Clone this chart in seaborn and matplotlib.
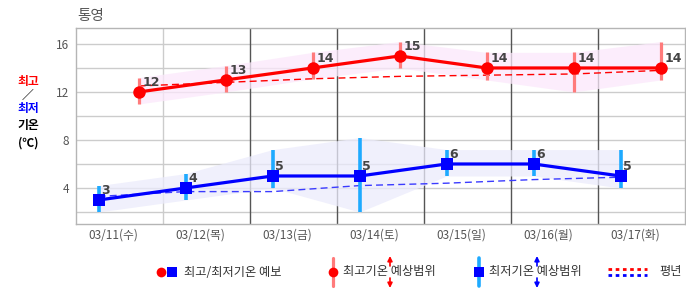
#!/usr/bin/env python
"""
Weekly max/min temperature forecast chart for 통영 with forecast ranges
and climatological normals.
"""
# Third-party
import matplotlib

matplotlib.use("Agg")
import matplotlib.pyplot as plt  # noqa: E402
import numpy as np  # noqa: E402
import pandas as pd  # noqa: E402
import seaborn as sns  # noqa: E402

# Data
dates = [
    "03/11(수)",
    "03/12(목)",
    "03/13(금)",
    "03/14(토)",
    "03/15(일)",
    "03/16(월)",
    "03/17(화)",
]
tmax = [12, 13, 14, 15, 14, 14, 14]
tmin = [3, 4, 5, 5, 6, 6, 5]
tmax_lo = [11.0, 12.0, 13.1, 14.0, 13.0, 12.0, 13.0]
tmax_hi = [13.2, 14.2, 15.3, 16.2, 15.3, 15.3, 16.2]
tmin_lo = [2.0, 3.0, 4.0, 2.0, 5.0, 5.0, 4.0]
tmin_hi = [4.2, 5.2, 7.2, 8.2, 7.2, 7.2, 7.2]
norm_max = [12.5, 12.8, 13.1, 13.3, 13.4, 13.5, 13.8]
norm_min = [3.3, 3.7, 3.7, 4.2, 4.4, 4.7, 4.9]

# Setup
sns.set_style("white")
plt.rcParams["font.family"] = ["Noto Sans CJK KR", "DejaVu Sans"]

W, H = 686, 295
RED = "#ff0000"
BLUE = "#0000ff"
PINK_BAR = "#ff7b7b"
SKY_BAR = "#1eaaff"
TXT = "#444444"

day = np.arange(len(dates))
x_max = day + 0.72  # afternoon high
x_min = day + 0.26  # morning low

df = pd.DataFrame(
    {
        "x_max": x_max,
        "x_min": x_min,
        "tmax": tmax,
        "tmin": tmin,
        "norm_max": norm_max,
        "norm_min": norm_min,
    }
)

fig = plt.figure(figsize=(W / 100, H / 100), dpi=100)
ax = fig.add_axes([76 / W, (H - 224) / H, (685 - 76) / W, (224 - 28) / H])

# Grid / frame
for v in range(2, 17, 2):
    ax.axhline(v, color="#cccccc", lw=1, zorder=0)
for i in range(1, len(dates)):
    ax.axvline(i, color="#cccccc" if i == 1 else "#555555", lw=1, zorder=0)
for s in ax.spines.values():
    s.set_color("#b5b5b5")
    s.set_linewidth(1)

# Forecast range bands
ax.fill_between(x_max, tmax_lo, tmax_hi, color="#fbe8fb", alpha=0.75, lw=0,
                zorder=1)
ax.fill_between(x_min, tmin_lo, tmin_hi, color="#ebebfc", alpha=0.75, lw=0,
                zorder=1)

# Normals
sns.lineplot(data=df, x="x_max", y="norm_max", color=RED, lw=1,
             linestyle=(0, (5, 3)), ax=ax, zorder=2)
sns.lineplot(data=df, x="x_min", y="norm_min", color="#3b3bff", lw=1,
             linestyle=(0, (5, 3)), ax=ax, zorder=2)

# Range bars
ax.vlines(x_max, tmax_lo, tmax_hi, color=PINK_BAR, lw=2.3, zorder=3)
ax.vlines(x_min, tmin_lo, tmin_hi, color=SKY_BAR, lw=2.6, zorder=3)

# Forecast lines
sns.lineplot(data=df, x="x_max", y="tmax", color=RED, lw=2.3, marker="o",
             markersize=9, markeredgewidth=0, ax=ax, zorder=4)
sns.lineplot(data=df, x="x_min", y="tmin", color=BLUE, lw=2.3, marker="s",
             markersize=8.5, markeredgewidth=0, ax=ax, zorder=4)

for xv, yv in zip(x_max, tmax):
    ax.annotate(f"{yv}", (xv, yv), xytext=(3, 7), textcoords="offset points",
                ha="left", va="center", fontsize=9, fontweight="bold",
                color=TXT, family="DejaVu Sans", zorder=5)
for xv, yv in zip(x_min, tmin):
    ax.annotate(f"{yv}", (xv, yv), xytext=(2, 7), textcoords="offset points",
                ha="left", va="center", fontsize=9, fontweight="bold",
                color=TXT, family="DejaVu Sans", zorder=5)

# Axes
ax.set_xlim(0, len(dates))
ax.set_ylim(1, 17.33)
ax.set_yticks([4, 8, 12, 16])
ax.set_yticklabels(["4", "8", "12", "16"], color="#555555", fontsize=8.5)
ax.set_xticks(day + 0.43)
ax.set_xticklabels(dates, color="#555555", fontsize=8.5)
ax.tick_params(axis="both", length=0)
ax.tick_params(axis="y", pad=5)
ax.tick_params(axis="x", pad=3)
ax.set_xlabel("")
ax.set_ylabel("")

# Title and left label
fig.text(77 / W, 1 - 16 / H, "통영", fontsize=10.5, color="#555555",
         ha="left", va="center")
left_labels = [
    ("최고", 81, RED),
    ("／", 95, "black"),
    ("최저", 109, BLUE),
    ("기온", 126, "black"),
    ("(℃)", 143, "black"),
]
for txt, yp, col in left_labels:
    fig.text(28 / W, 1 - yp / H, txt, fontsize=8.5, fontweight="bold",
             color=col, ha="center", va="center")

# Legend drawn on an overlay in pixel space
lg = fig.add_axes([0, 0, 1, 1], facecolor="none")
lg.set_xlim(0, W)
lg.set_ylim(H, 0)
lg.axis("off")
ly = 272
lg.plot([161], [ly], "o", color=RED, ms=7, mew=0)
lg.plot([172], [ly], "s", color=BLUE, ms=6.5, mew=0)
lg.text(184, ly, "최고/최저기온 예보", fontsize=8.8, color="#333333",
        va="center", ha="left")

lg.plot([333, 333], [258, 286], color=PINK_BAR, lw=2.3)
lg.plot([333], [ly], "o", color=RED, ms=7, mew=0)
lg.text(343, ly, "최고기온 예상범위", fontsize=8.8, color="#333333",
        va="center", ha="left")

lg.plot([479, 479], [258, 286], color=SKY_BAR, lw=2.6)
lg.plot([479], [ly], "s", color=BLUE, ms=6.5, mew=0)
lg.text(489, ly, "최저기온 예상범위", fontsize=8.8, color="#333333",
        va="center", ha="left")

for ax_x, col in [(390, RED), (537, BLUE)]:
    for tip, tail in [(256, 266), (288, 278)]:
        lg.annotate("", xy=(ax_x, tip), xytext=(ax_x, tail),
                    arrowprops=dict(arrowstyle="-|>", color=col, lw=1.2,
                                    mutation_scale=7, shrinkA=0,
                                    shrinkB=0))

lg.plot([608, 647], [269, 269], color=RED, lw=2, linestyle=(0, (1.3, 1.3)))
lg.plot([608, 647], [275, 275], color=BLUE, lw=2, linestyle=(0, (1.3, 1.3)))
lg.text(659, ly, "평년", fontsize=8.8, color="#333333", va="center",
        ha="left")

fig.savefig("out.png", dpi=100)
